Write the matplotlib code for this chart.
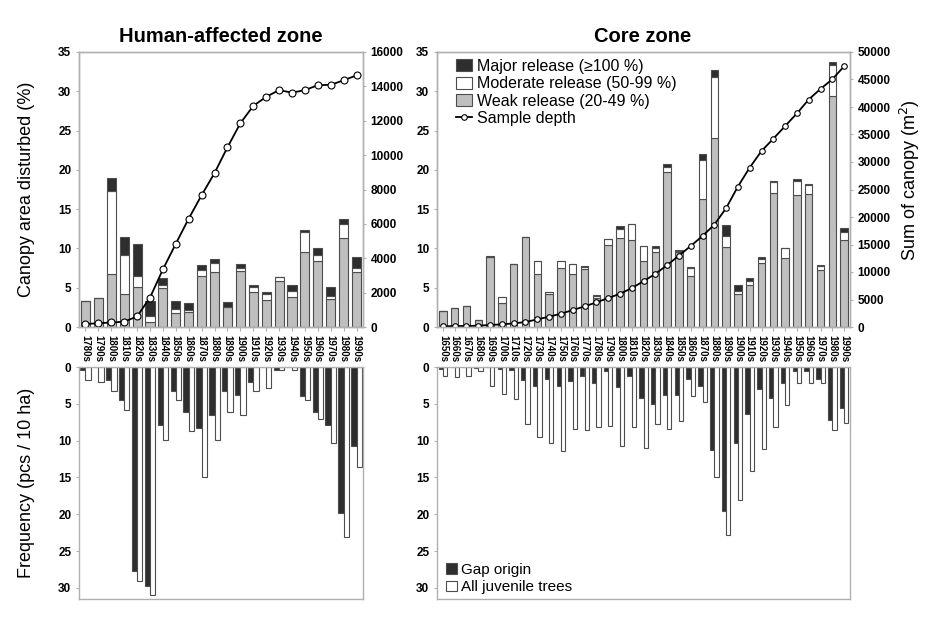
import matplotlib
matplotlib.use("Agg")
import matplotlib.pyplot as plt
from matplotlib.patches import Patch
from matplotlib.lines import Line2D
from matplotlib import font_manager
import numpy as np

# ---------------- data ----------------
dec_h = ['1780s', '1790s', '1800s', '1810s', '1820s', '1830s', '1840s', '1850s', '1860s', '1870s', '1880s',
         '1890s', '1900s', '1910s', '1920s', '1930s', '1940s', '1950s', '1960s', '1970s', '1980s', '1990s']
weak_h = [3.3, 3.65, 6.7, 4.2, 5.15, 0.6, 5.0, 1.8, 1.95, 6.55, 7.0,
          2.5, 7.1, 4.5, 3.5, 5.85, 3.85, 9.5, 8.45, 3.6, 11.3, 6.95]
mod_h = [0, 0, 10.55, 5.0, 1.3, 0.75, 0.3, 0.45, 0.2, 0.65, 1.2,
         0.0, 0.45, 0.6, 0.75, 0.5, 0.7, 2.6, 0.7, 0.4, 1.75, 0.6]
maj_h = [0, 0, 1.75, 2.3, 4.1, 1.9, 0.95, 1.0, 0.85, 0.65, 0.45,
         0.62, 0.42, 0.3, 0.2, 0.0, 0.75, 0.3, 0.95, 1.1, 0.7, 1.3]
depth_h = [175, 220, 263, 307, 614, 1710, 3353, 4845, 6310, 7670, 8960,
           10454, 11855, 12864, 13390, 13784, 13632, 13784, 14070, 14090, 14355, 14640]
gap_h = [0.4, 0, 1.7, 4.5, 27.7, 29.8, 7.85, 3.2, 6.15, 8.26, 6.56,
         3.2, 3.74, 2.0, 0, 0.4, 0, 4.0, 6.15, 7.85, 19.8, 10.7]
juv_h = [1.7, 2.05, 3.3, 5.8, 29.0, 31.0, 9.9, 4.5, 8.67, 14.9, 9.9,
         6.15, 6.56, 3.23, 2.8, 0.4, 0.4, 4.5, 7.0, 10.26, 23.1, 13.6]

dec_c = ['1650s', '1660s', '1670s', '1680s', '1690s', '1700s', '1710s', '1720s', '1730s', '1740s',
         '1750s', '1760s', '1770s', '1780s', '1790s', '1800s', '1810s', '1820s', '1830s', '1840s',
         '1850s', '1860s', '1870s', '1880s', '1890s', '1900s', '1910s', '1920s', '1930s', '1940s',
         '1950s', '1960s', '1970s', '1980s', '1990s']
weak_c = [2.0, 2.45, 2.65, 0.85, 8.9, 3.05, 8.0, 11.5, 6.75, 4.15,
          7.5, 6.75, 7.4, 3.7, 10.5, 11.3, 11.05, 8.45, 9.6, 19.75,
          9.5, 6.55, 16.25, 24.0, 10.2, 4.25, 5.3, 8.1, 17.1, 8.8,
          16.8, 16.9, 7.2, 29.4, 11.05]
mod_c = [0, 0, 0, 0, 0, 0.75, 0, 0, 1.65, 0.35,
         0.9, 1.25, 0.2, 0.3, 0.7, 1.15, 2.05, 1.8, 0.45, 0.65,
         0.2, 0.95, 4.95, 7.8, 1.35, 0.3, 0.5, 0.55, 1.4, 1.2,
         1.8, 1.15, 0.55, 4.0, 1.05]
maj_c = [0, 0, 0, 0, 0.15, 0, 0, 0, 0, 0,
         0, 0, 0.2, 0.1, 0, 0.35, 0, 0, 0.2, 0.3,
         0.15, 0.2, 0.8, 0.9, 1.4, 0.8, 0.4, 0.2, 0.1, 0,
         0.2, 0.1, 0.2, 0.3, 0.5]
depth_c = [120, 180, 180, 240, 360, 480, 660, 905, 1390, 1870,
           2415, 3080, 3740, 4470, 5250, 6040, 7060, 8330, 9660, 11230,
           12980, 14730, 16540, 18600, 21610, 25540, 28980, 32000, 34230, 36530,
           38830, 41360, 43290, 45040, 47400]
gap_c = [0.23, 0, 0, 0.18, 0, 0.23, 0.45, 1.82, 2.55, 1.6,
         2.55, 1.95, 1.18, 2.18, 0.6, 2.77, 1.18, 4.23, 5.0, 3.77,
         3.77, 1.6, 2.55, 11.23, 19.6, 10.36, 6.36, 3.0, 4.23, 2.18,
         0.6, 0.6, 1.6, 7.18, 5.6]
juv_c = [1.23, 1.36, 1.18, 0.6, 2.6, 3.6, 4.4, 7.77, 9.55, 10.3,
         11.4, 8.4, 8.6, 8.14, 7.95, 10.77, 8.14, 10.95, 7.77, 8.4,
         7.36, 3.95, 4.77, 15.0, 22.77, 18.0, 14.18, 11.18, 8.14, 5.18,
         2.18, 2.18, 2.18, 8.6, 7.6]

# ---------------- style ----------------
avail = {f.name for f in font_manager.fontManager.ttflist}
base_font = 'Liberation Sans' if 'Liberation Sans' in avail else 'DejaVu Sans'
title_font = 'Liberation Sans Narrow' if 'Liberation Sans Narrow' in avail else base_font
plt.rcParams['font.family'] = [base_font, 'DejaVu Sans']

GREY = '#bfbfbf'
BLACK = '#2e2e2e'
EDGE = '#4d4d4d'
SPINE = '#b0b0b0'

W, H = 945, 643
fig = plt.figure(figsize=(W / 100, H / 100), dpi=100)


def box(x0, y0, x1, y1):
    return [x0 / W, 1 - y1 / H, (x1 - x0) / W, (y1 - y0) / H]


def style_axes(ax):
    for s in ax.spines.values():
        s.set_color(SPINE)
        s.set_linewidth(1.0)
    ax.tick_params(axis='both', colors=SPINE, labelcolor='black', labelsize=8.5, length=2)
    for lab in ax.get_yticklabels():
        lab.set_fontweight('bold')


def top_panel(rect, labels, weak, mod, maj, depth, dmax, dstep, width, ms):
    ax = fig.add_axes(rect)
    x = np.arange(len(labels))
    weak = np.array(weak); mod = np.array(mod); maj = np.array(maj)
    ax.bar(x, weak, width, color=GREY, edgecolor=EDGE, linewidth=0.8)
    ax.bar(x, mod, width, bottom=weak, color='white', edgecolor=EDGE, linewidth=0.8)
    ax.bar(x, maj, width, bottom=weak + mod, color=BLACK, edgecolor=EDGE, linewidth=0.8)
    ax.set_xlim(-0.5, len(labels) - 0.5)
    ax.set_ylim(0, 35)
    ax.set_yticks(np.arange(0, 36, 5))
    ax.set_xticks(x)
    ax.set_xticklabels(labels, rotation=-90, fontsize=7, fontweight='bold', va='top', ha='center')
    style_axes(ax)
    ax.tick_params(axis='x', length=3, pad=3, labelsize=7)
    ax2 = ax.twinx()
    ax2.plot(x, depth, color='black', lw=1.3, marker='o', ms=ms, mfc='white', mec='black', mew=0.8)
    ax2.set_ylim(0, dmax)
    ax2.set_yticks(np.arange(0, dmax + 1, dstep))
    style_axes(ax2)
    ax2.set_xlim(-0.5, len(labels) - 0.5)
    return ax, ax2


def bottom_panel(rect, labels, gap, juv, width):
    ax = fig.add_axes(rect)
    x = np.arange(len(labels))
    ax.bar(x - width / 2, gap, width, color=BLACK, edgecolor=EDGE, linewidth=0.8)
    ax.bar(x + width / 2, juv, width, color='white', edgecolor=EDGE, linewidth=0.8)
    ax.set_xlim(-0.5, len(labels) - 0.5)
    ax.set_ylim(31.5, 0)
    ax.set_yticks(np.arange(0, 31, 5))
    ax.set_xticks([])
    style_axes(ax)
    return ax


# left column
axL, axL2 = top_panel(box(79, 52, 363, 327), dec_h, weak_h, mod_h, maj_h, depth_h, 16000, 2000, 0.7, 5)
axLb = bottom_panel(box(79, 367, 363, 599), dec_h, gap_h, juv_h, 0.41)

# right column
axR, axR2 = top_panel(box(437, 52, 850, 327), dec_c, weak_c, mod_c, maj_c, depth_c, 50000, 5000, 0.64, 4)
axRb = bottom_panel(box(437, 367, 850, 599), dec_c, gap_c, juv_c, 0.37)

# titles
fig.text(221 / W, 1 - 36 / H, 'Human-affected zone', ha='center', va='center',
         fontsize=14.5, fontweight='bold', family=title_font)
fig.text(643 / W, 1 - 36 / H, 'Core zone', ha='center', va='center',
         fontsize=14.5, fontweight='bold', family=title_font)

# axis labels
fig.text(27 / W, 1 - 189 / H, 'Canopy area disturbed (%)', rotation=90, ha='center', va='center', fontsize=13)
fig.text(27 / W, 1 - 483 / H, 'Frequency (pcs / 10 ha)', rotation=90, ha='center', va='center', fontsize=13)
fig.text(910 / W, 1 - 180 / H, 'Sum of canopy (m$^2$)', rotation=90, ha='center', va='center', fontsize=13)

# legends
h_top = [Patch(facecolor=BLACK, edgecolor=EDGE, lw=0.8),
         Patch(facecolor='white', edgecolor=EDGE, lw=0.8),
         Patch(facecolor=GREY, edgecolor=EDGE, lw=0.8),
         Line2D([0], [0], color='black', lw=1.3, marker='o', ms=4, mfc='white', mec='black', mew=0.8)]
l_top = ['Major release (\u2265100 %)', 'Moderate release (50-99 %)', 'Weak release (20-49 %)', 'Sample depth']
axR2.legend(h_top, l_top, loc='upper left', bbox_to_anchor=(0.045, 0.975), frameon=False,
            fontsize=11.5, borderpad=0, borderaxespad=0, labelspacing=0.15,
            handlelength=1.0, handleheight=0.75, handletextpad=0.35)

h_bot = [Patch(facecolor=BLACK, edgecolor=EDGE, lw=0.8),
         Patch(facecolor='white', edgecolor=EDGE, lw=0.8)]
axRb.legend(h_bot, ['Gap origin', 'All juvenile trees'], loc='lower left', bbox_to_anchor=(0.022, 0.02),
            frameon=False, fontsize=11, borderpad=0, borderaxespad=0, labelspacing=0.25,
            handlelength=0.7, handleheight=0.7, handletextpad=0.25)

fig.savefig('out.png', dpi=100)
